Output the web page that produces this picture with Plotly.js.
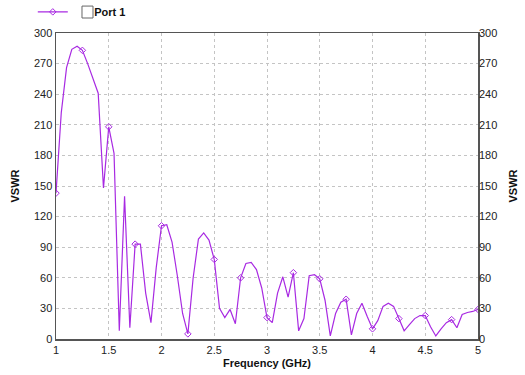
<!DOCTYPE html>
<html>
<head>
<meta charset="utf-8">
<script src="https://cdn.plot.ly/plotly-3.0.1.min.js"></script>
<style>html,body{margin:0;padding:0;background:#fff;}#chart{width:525px;height:375px;}</style>
</head>
<body>
<div id="chart"></div>
<script>
// Frequency (GHz)
const freq = [1.00,1.05,1.10,1.15,1.20,1.25,1.30,1.35,1.40,1.45,1.50,1.55,1.60,1.65,1.70,1.75,1.80,1.85,1.90,1.95,
  2.00,2.05,2.10,2.15,2.20,2.25,2.30,2.35,2.40,2.45,2.50,2.55,2.60,2.65,2.70,2.75,2.80,2.85,2.90,2.95,
  3.00,3.05,3.10,3.15,3.20,3.25,3.30,3.35,3.40,3.45,3.50,3.55,3.60,3.65,3.70,3.75,3.80,3.85,3.90,3.95,
  4.00,4.05,4.10,4.15,4.20,4.25,4.30,4.35,4.40,4.45,4.50,4.55,4.60,4.65,4.70,4.75,4.80,4.85,4.90,4.95,5.00];
// VSWR, Port 1
const vswr = [143,222,266,284,287,283,270,256,241,148,208,182,8,140,11,93,93,45,16,70,
  111,112,95,62,25,5,60,98,104,97,78,30,21,29,15,60,74,75,68,50,
  21,16,45,61,41,65,8,20,62,63,59,38,3,25,36,39,4,25,35,22,
  10,18,32,35,32,20,8,14,20,23,23,12,3,10,16,19,11,24,26,27,29];
// marker every 5th sample (0.25 GHz)
const markerStep = 5;
const seriesName = 'Port 1';
const xTicks = [1,1.5,2,2.5,3,3.5,4,4.5,5];
const xTickText = ['1','1.5','2','2.5','3','3.5','4','4.5','5'];
const yTicks = [0,30,60,90,120,150,180,210,240,270,300];

const lineColor = '#a82ae2';
const markerColors = freq.map((f,i) => (i % markerStep === 0 ? lineColor : 'rgba(0,0,0,0)'));
const pad = '\u00a0\u00a0\u00a0\u00a0\u00a0\u00a0\u00a0';

const traces = [
  {
    x: freq, y: vswr, type: 'scatter', mode: 'lines+markers', name: pad + seriesName,
    line: {color: lineColor, width: 1.2},
    marker: {symbol: 'diamond-open', size: 5, color: markerColors}
  },
  {
    x: freq, y: vswr, yaxis: 'y2', type: 'scatter', mode: 'lines', showlegend: false,
    hoverinfo: 'skip', line: {color: 'rgba(0,0,0,0)', width: 0}
  }
];

const fam = 'Arial, "Liberation Sans", sans-serif';
const font = {family: fam, size: 11, color: '#222'};
const titleFont = {family: fam, size: 11, color: '#111', weight: 'bold'};
const grid = {showgrid: true, gridcolor: '#c4c4c4', griddash: '3px,3px', gridwidth: 1};

const layout = {
  width: 525, height: 375,
  margin: {l: 56, r: 47, t: 33, b: 36, autoexpand: false},
  paper_bgcolor: '#fff', plot_bgcolor: '#fff',
  font: font,
  showlegend: true,
  legend: {x: -0.055, xanchor: 'left', y: 1.069, yanchor: 'middle', orientation: 'h',
    font: titleFont, bgcolor: 'rgba(0,0,0,0)', borderwidth: 0},
  xaxis: Object.assign({
    range: [1,5], tickvals: xTicks, ticktext: xTickText, ticks: '',
    showline: true, linecolor: '#555', linewidth: 1.5, mirror: true, zeroline: false,
    tickfont: font,
    title: {text: 'Frequency (GHz)', font: titleFont, standoff: 4}
  }, grid),
  yaxis: Object.assign({
    range: [0,300], tickvals: yTicks, ticks: '',
    showline: true, linecolor: '#555', linewidth: 1.5, mirror: true, zeroline: false,
    tickfont: font,
    title: {text: 'VSWR', font: titleFont, standoff: 12}
  }, grid),
  yaxis2: {
    overlaying: 'y', side: 'right', range: [0,300], tickvals: yTicks, ticks: '',
    showgrid: false, zeroline: false, showline: false,
    tickfont: font,
    title: {text: 'VSWR', font: titleFont, standoff: 12}
  },
  shapes: [
    {type: 'rect', xref: 'paper', yref: 'paper', x0: 0.0616, x1: 0.0877, y0: 1.049, y1: 1.088,
      line: {color: '#666', width: 1}, fillcolor: '#fff'}
  ]
};

Plotly.newPlot('chart', traces, layout, {displayModeBar: false, staticPlot: true});
</script>
</body>
</html>
